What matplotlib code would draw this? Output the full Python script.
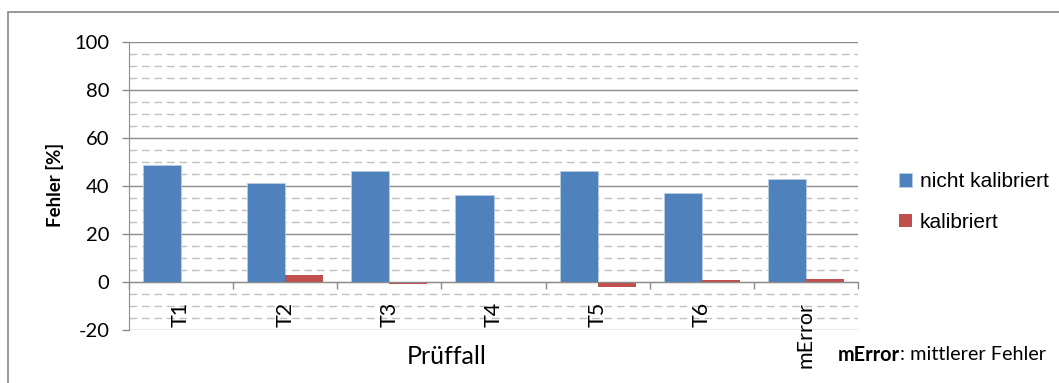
import numpy as np
import matplotlib
matplotlib.use("Agg")
import matplotlib.pyplot as plt
from matplotlib.patches import Rectangle
from matplotlib.ticker import MultipleLocator

plt.rcParams["axes.unicode_minus"] = False

# Data
categories = ["T1", "T2", "T3", "T4", "T5", "T6", "mError"]
nicht_kalibriert = [48.7, 41.1, 46.4, 36.3, 46.4, 37.2, 42.8]
kalibriert = [-0.4, 2.9, -1.0, -0.5, -2.0, 1.0, 1.2]
series_names = ["nicht kalibriert", "kalibriert"]

blue = "#4F81BD"
red = "#C0504D"
major_grid = "#8C8C8C"
minor_grid = "#C0C0C0"
label_font = "Lato"

W, H = 1059, 383
fig = plt.figure(figsize=(W / 100, H / 100), dpi=100)

# outer chart border (only left and top visible in the crop)
fig.patches.append(Rectangle((8 / W, -0.2), 1.2, 1.2 - 12 / H,
                             transform=fig.transFigure, fill=False,
                             edgecolor="#888888", lw=1.2))

ax = fig.add_axes([129 / W, 1 - 330 / H, 729 / W, 288 / H])

x = np.arange(len(categories))
w = 0.365
b1 = ax.bar(x - w / 2, nicht_kalibriert, w, color=blue, edgecolor="#B9CDE5",
            linewidth=0.6, zorder=3, label=series_names[0])
b2 = ax.bar(x + w / 2, kalibriert, w, color=red, edgecolor="none",
            zorder=3, label=series_names[1])

ax.set_xlim(-0.5, len(categories) - 0.5)
ax.set_ylim(-20, 100)
ax.yaxis.set_major_locator(MultipleLocator(20))
ax.yaxis.set_minor_locator(MultipleLocator(5))
ax.grid(axis="y", which="major", color=major_grid, lw=1.0, zorder=0)
ax.grid(axis="y", which="minor", color=minor_grid, lw=1.0,
        linestyle=(0, (5.5, 3.5)), zorder=0)
ax.tick_params(axis="y", which="minor", length=0)
ax.tick_params(axis="y", which="major", length=5, width=1, color=major_grid,
               pad=9, labelsize=14.5)
for t in ax.get_yticklabels():
    t.set_fontfamily(label_font)

for s in ["top", "right"]:
    ax.spines[s].set_visible(False)
ax.spines["left"].set_color(major_grid)
ax.spines["bottom"].set_position(("data", 0))
ax.spines["bottom"].set_color(major_grid)
ax.spines["bottom"].set_zorder(4)

# ticks on category boundaries, labels drawn separately
ax.set_xticks(np.arange(-0.5, len(categories), 1.0))
ax.set_xticklabels([])
ax.tick_params(axis="x", length=5, width=1, color=major_grid, direction="out")

for xi, c in zip(x, categories):
    ax.text(xi, -8.2, c, rotation=90, ha="center", va="top",
            fontsize=15.5, fontfamily=label_font, zorder=5)

fig.text(447 / W, 1 - 357 / H, "Prüffall", ha="center", va="center",
         fontsize=18, fontfamily=label_font)
fig.text(55 / W, 1 - 185 / H, "Fehler [%]", ha="center", va="center",
         rotation=90, fontsize=13.5, fontweight="bold", fontfamily=label_font)

fig.legend(handles=[b1, b2], labels=series_names, loc="upper left",
           bbox_to_anchor=(893 / W, 1 - 166 / H), frameon=False,
           prop={"family": "Liberation Sans", "size": 15},
           handlelength=0.6, handleheight=0.6, handletextpad=0.4,
           labelspacing=1.05, borderaxespad=0, borderpad=0.3)

t1 = fig.text(838 / W, 1 - 355 / H, "mError", ha="left", va="center",
              fontsize=14.3, fontweight="bold", fontfamily=label_font)
fig.canvas.draw()
bb = t1.get_window_extent()
fig.text(bb.x1 / W, 1 - 355 / H, ": mittlerer Fehler", ha="left",
         va="center", fontsize=14.3, fontfamily=label_font)

fig.savefig("out.png", dpi=100)
